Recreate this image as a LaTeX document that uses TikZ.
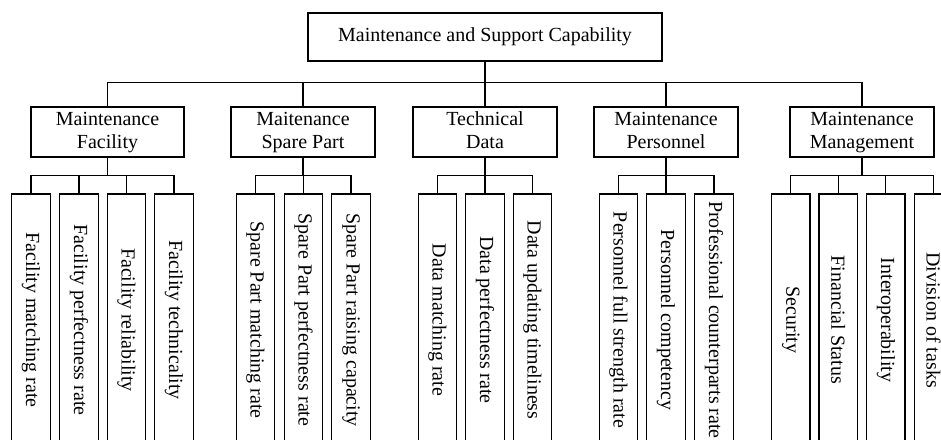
\documentclass[tikz,border=0pt]{standalone}
\usepackage{fontspec}
\setmainfont{Liberation Serif}
\begin{document}
\begin{tikzpicture}
[x=1pt,y=-1pt,
  boxdecorate/.style={shape=rectangle,draw,line width=1.2pt,inner sep=2pt,align=center,font=\fontsize{20}{23}\selectfont},%
  topdecorate/.style={boxdecorate,minimum width=354pt,minimum height=48pt},
  groupdecorate/.style={boxdecorate,minimum height=48pt},
  leafdecorate/.style={boxdecorate,rotate=-90,minimum width=252pt,minimum height=38.5pt},
  linedecorate/.style={-,line width=1.2pt}]
\useasboundingbox (0,0) rectangle (941,439);
%% root node
\node (root) at (485,37) [topdecorate] {Maintenance and Support Capability};
%% second level nodes
\foreach \nodename/\x/\w/\first/\second in {facility/107.5/153/Maintenance/Facility,
    spare/303/144/Maitenance/Spare Part, data/485/144/Technical/Data,
    personnel/666/144/Maintenance/Personnel, management/862/144/Maintenance/Management} {
  \node (\nodename) at (\x,132) [groupdecorate,minimum width=\w pt] {\strut\first\\\strut\second};
}
%% leaf nodes
\foreach \nodename/\x/\txt in {fmatch/31/Facility matching rate, fperfect/79/Facility perfectness rate,
    freliab/126.5/Facility reliability, ftech/174/Facility technicality,
    smatch/255.5/Spare Part matching rate, sperfect/303.5/Spare Part perfectness rate,
    sraise/351/Spare Part raising capacity,
    dmatch/437.5/Data matching rate, dperfect/485/Data perfectness rate, dupdate/532.5/Data updating timeliness,
    pfull/618.5/Personnel full strength rate, pcompet/666/Personnel competency,
    pcounter/714/Professional counterparts rate,
    msecur/790.8/Security, mfinance/838.3/Financial Status, minterop/885.8/Interoperability,
    mdivision/933.5/Division of tasks} {
  \node (\nodename) at (\x,320) [leafdecorate] {\txt};
}
%% lines from root
\draw[linedecorate]
\foreach \endnode in {facility, spare, data, personnel, management} {
  (root.south) -- ++(0,21) -| (\endnode.north)
};
%% lines to leaves
\draw[linedecorate]
\foreach \startnode/\endnode in {facility/fmatch, facility/fperfect, facility/freliab, facility/ftech,
    spare/smatch, spare/sperfect, spare/sraise, data/dmatch, data/dperfect, data/dupdate,
    personnel/pfull, personnel/pcompet, personnel/pcounter,
    management/msecur, management/mfinance, management/minterop, management/mdivision} {
  (\startnode.south) -- ++(0,18) -| (\endnode.west)
};
\end{tikzpicture}
\end{document}
